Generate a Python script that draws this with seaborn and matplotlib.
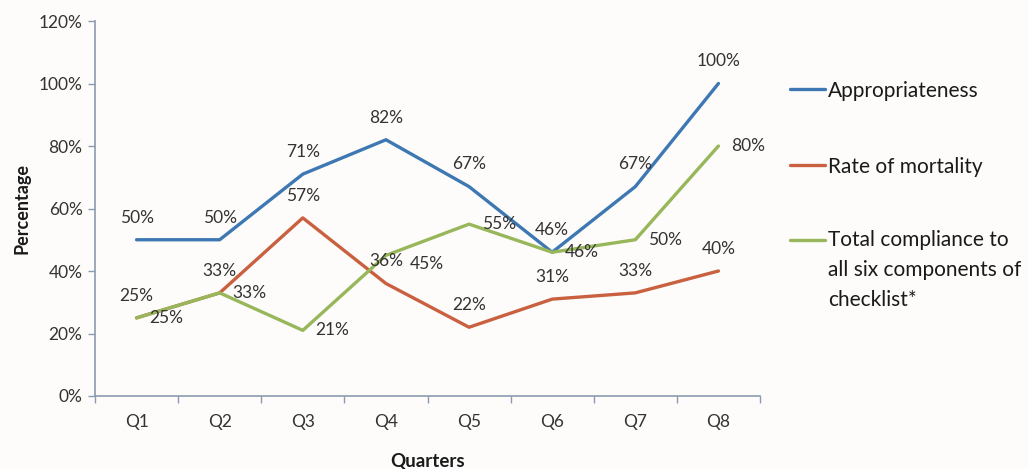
import matplotlib
matplotlib.use("Agg")
import matplotlib.pyplot as plt
from matplotlib.lines import Line2D
from matplotlib.ticker import FixedLocator, PercentFormatter
import seaborn as sns
import pandas as pd

quarters = ["Q1", "Q2", "Q3", "Q4", "Q5", "Q6", "Q7", "Q8"]
appropriateness = [50, 50, 71, 82, 67, 46, 67, 100]
mortality = [25, 33, 57, 36, 22, 31, 33, 40]
compliance = [25, 33, 21, 45, 55, 46, 50, 80]
series_names = ["Appropriateness", "Rate of mortality",
                "Total compliance to\nall six components of\nchecklist*"]
colors = ["#3E78B3", "#C9603F", "#97B75A"]

sns.set_theme(style="white")
plt.rcParams['font.family'] = ['Lato', 'DejaVu Sans']

rows = []
for name, vals in zip(series_names, [appropriateness, mortality, compliance]):
    for i, (q, v) in enumerate(zip(quarters, vals)):
        rows.append({"pos": i, "Quarter": q, "value": v, "series": name})
df = pd.DataFrame(rows)

fig = plt.figure(figsize=(10.28, 4.69), dpi=100)
fig.patch.set_facecolor("#FDFCFB")
ax = fig.add_axes([95/1028, 1-396/469, (760-95)/1028, (396-21)/469])
ax.set_facecolor("#FDFCFB")

sns.lineplot(data=df, x="pos", y="value", hue="series", palette=colors,
             linewidth=2.4, legend=False, ax=ax, sort=False)

ax.set_xlim(-0.5, 7.5)
ax.set_ylim(0, 120)
ax.set_yticks(range(0, 121, 20))
ax.yaxis.set_major_formatter(PercentFormatter(decimals=0))
ax.set_xticks(range(len(quarters)))
ax.set_xticklabels(quarters)
ax.xaxis.set_minor_locator(FixedLocator([k - 0.5 for k in range(9)]))
ax.tick_params(axis="x", which="major", length=0, pad=13, labelsize=12.5, colors="#333333")
ax.tick_params(axis="x", which="minor", length=5, width=1, color="#8A9BB0", bottom=True)
ax.tick_params(axis="y", which="major", length=5, width=1, color="#8A9BB0", left=True,
               labelsize=12.5, labelcolor="#333333", pad=4)
for s in ["top", "right"]:
    ax.spines[s].set_visible(False)
for s in ["left", "bottom"]:
    ax.spines[s].set_color("#8A9BB0")
    ax.spines[s].set_linewidth(1.2)

ax.set_xlabel("Quarters", fontsize=13.5, fontweight="bold", labelpad=16, color="#1a1a1a")
ax.set_ylabel("Percentage", fontsize=13, fontweight="bold", labelpad=6, color="#1a1a1a")

lab_kw = dict(textcoords="offset points", fontsize=12.5, color="#333333", va="center")
for i, v in enumerate(appropriateness):
    ax.annotate(f"{v}%", (i, v), xytext=(0, 16), ha="center", **lab_kw)
for i, v in enumerate(mortality):
    ax.annotate(f"{v}%", (i, v), xytext=(0, 16), ha="center", **lab_kw)
comp_offsets = {3: (17, -6)}
for i, v in enumerate(compliance):
    ax.annotate(f"{v}%", (i, v), xytext=comp_offsets.get(i, (9, 0)), ha="left", **lab_kw)

# legend
leg_y = [89, 165, 240]
for k, (name, c, y) in enumerate(zip(series_names, colors, leg_y)):
    yf = 1 - y/469
    fig.add_artist(Line2D([790/1028, 825/1028], [yf, yf], color=c, lw=2.4,
                          transform=fig.transFigure))
    if "\n" in name:
        fig.text(828/1028, 1 - 230/469, name, fontsize=15, color="#1a1a1a",
                 va="top", linespacing=1.62)
    else:
        fig.text(828/1028, yf, name, fontsize=15, color="#1a1a1a",
                 va="center_baseline")

fig.savefig("out.png", dpi=100, facecolor=fig.get_facecolor())
